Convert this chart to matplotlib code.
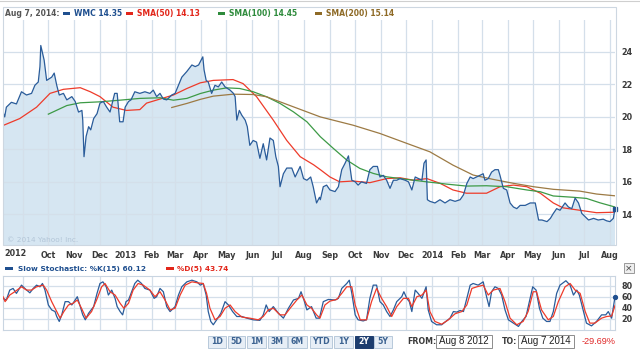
import matplotlib
matplotlib.use('Agg')
import matplotlib.pyplot as plt
import matplotlib.transforms as mtransforms
from matplotlib.patches import Rectangle
import pandas as pd

# ---- data (x values are days since Aug 8 2012) ----
start = pd.Timestamp('2012-08-08')
end = pd.Timestamp('2014-08-07')

price_days = [0, 2, 4, 10, 16, 22, 28, 34, 38, 42,
              44, 45, 49, 52, 58, 61, 64, 67, 72, 76,
              82, 86, 90, 94, 95, 96.5, 99, 102, 104.5, 108,
              112, 115.5, 119.5, 123.5, 127.5, 133, 136, 139, 143, 145.5,
              149.5, 152.5, 157, 163, 169, 175, 179, 183, 187, 191,
              195, 201, 205, 209, 213, 219, 225, 229, 233, 238,
              239.5, 242, 244.5, 248.5, 252.5, 256.5, 260.5, 264.5, 270.5, 274.5,
              276.5, 278.5, 281.5, 284.5, 288.5, 291, 294, 298, 302, 306,
              310, 314, 318, 322, 325, 328, 330, 334, 338, 344,
              348, 354, 358, 362, 366.5, 369.5, 373.5, 377, 378, 381.5,
              385.5, 389.5, 395.5, 399.5, 403.5, 407.5, 411.5, 415.5, 419.5, 423,
              427, 433, 437, 441, 446, 449, 453, 457, 461, 465,
              469, 473, 479, 483, 487, 491, 495, 499, 501.5, 504,
              505.5, 508.5, 514.5, 520.5, 526.5, 532.5, 538.5, 544.5, 548.5, 552.5,
              556.5, 560, 564, 568, 572, 574, 578, 582, 586, 590,
              592, 594, 596, 600, 604, 608, 612, 616, 622, 628,
              634, 638, 642, 648, 652, 655.5, 659.5, 663.5, 669.5, 673.5,
              677.5, 681.5, 685.5, 689.5, 693.5, 697.5, 703.5, 709, 715, 719,
              723, 727, 729]
price = [20.3, 20.0, 20.6, 20.9, 20.8, 21.55, 21.35, 21.45, 21.95, 22.15,
         23.1, 24.4, 23.5, 22.25, 22.45, 22.7, 21.95, 21.35, 21.45, 21.05,
         21.25, 20.95, 20.3, 20.4, 19.8, 17.55, 18.8, 19.4, 19.2, 19.9,
         20.2, 20.85, 20.95, 20.6, 20.3, 21.45, 21.45, 19.7, 19.7, 20.6,
         20.95, 21.05, 21.55, 21.45, 21.55, 21.45, 21.65, 21.25, 21.45, 21.1,
         21.05, 21.35, 21.45, 21.95, 22.45, 22.8, 23.2, 23.1, 23.2, 23.7,
         22.9, 22.25, 22.15, 21.45, 21.95, 21.85, 22.15, 21.85, 21.65, 21.45,
         21.25, 19.8, 20.4, 20.1, 19.8, 19.4, 18.25, 18.55, 18.45, 17.45,
         18.35, 17.35, 18.7, 18.55, 17.55, 16.95, 15.7, 16.5, 16.85, 16.85,
         16.3, 16.95, 16.2, 16.1, 16.3, 15.7, 14.7, 15.05, 14.9, 15.7,
         15.8, 15.5, 15.4, 15.7, 16.75, 17.15, 17.6, 16.1, 16.0, 15.8,
         16.0, 15.9, 16.75, 16.95, 16.95, 16.3, 16.4, 16.1, 15.6, 16.1,
         16.1, 16.2, 16.1, 16.0, 15.5, 16.3, 16.2, 16.1, 17.15, 17.35,
         14.9, 14.8, 14.7, 14.9, 14.7, 14.9, 14.8, 14.9, 15.2, 15.9,
         16.3, 16.2, 16.3, 16.4, 16.5, 16.1, 16.2, 16.6, 16.75, 16.75,
         16.4, 16.0, 15.6, 15.5, 14.7, 14.45, 14.35, 14.55, 14.55, 14.7,
         14.7, 13.65, 13.65, 13.55, 13.75, 14.05, 14.35, 14.25, 14.7, 14.45,
         14.35, 15.0, 14.7, 14.05, 13.85, 13.65, 13.75, 13.65, 13.7, 13.6,
         13.55, 13.75, 14.35]

sma50_days = [0, 20, 40, 56, 72, 92, 104, 115.5, 131, 147, 163, 171, 187, 203,
              219, 235, 250.5, 274, 286, 302, 322, 338, 354, 370, 378, 389.5,
              401, 417, 437, 457, 473, 489, 505, 521, 536, 552, 576, 592, 608,
              624, 640, 655.5, 667, 687, 707, 729]
sma50 = [19.47, 19.9, 20.6, 21.45, 21.7, 21.8, 21.55, 21.25, 20.6, 20.4, 20.45,
         20.85, 21.1, 21.35, 21.75, 22.1, 22.25, 22.3, 22.05, 21.25, 19.8, 18.55,
         17.55, 17.05, 16.75, 16.3, 16.0, 16.05, 15.95, 16.2, 16.25, 16.1, 16.2,
         15.9, 15.5, 15.3, 15.3, 15.7, 15.8, 15.7, 15.3, 14.7, 14.4, 14.25, 14.1,
         14.13]

sma100_days = [54, 76, 92, 115.5, 139, 163, 187, 203, 219, 235, 250.5, 266.5,
               282, 298, 314, 330, 346, 362, 378, 393.5, 409.5, 425, 441, 457,
               481, 505, 528.5, 552, 576, 600, 624, 640, 655.5, 679, 695, 711, 729]
sma100 = [20.17, 20.7, 20.87, 20.93, 21.03, 21.14, 21.18, 21.03, 21.14, 21.44,
          21.65, 21.79, 21.75, 21.55, 21.24, 20.83, 20.31, 19.7, 18.78, 18.06,
          17.34, 16.83, 16.52, 16.31, 16.15, 16.0, 15.86, 15.74, 15.76, 15.7,
          15.5, 15.39, 15.13, 15.05, 14.98, 14.71, 14.45]

sma200_days = [201, 219, 235, 250.5, 274, 298, 314, 330, 346, 362, 378, 417,
               449, 481, 508.5, 536, 560, 584, 608, 632, 655.5, 687, 707, 729]
sma200 = [20.58, 20.83, 21.08, 21.28, 21.4, 21.38, 21.24, 20.93, 20.62, 20.31,
          20.0, 19.49, 18.98, 18.37, 17.85, 17.03, 16.42, 16.15, 15.91, 15.7,
          15.54, 15.43, 15.25, 15.14]

k_days = [0, 4, 8, 12, 16, 22, 26, 32, 36, 40, 44, 47, 50, 54, 58, 62, 64, 67,
          70, 74, 78, 82, 86, 88.5, 92, 95, 98, 102, 108, 112, 115.5, 119, 123,
          125.5, 129.5, 133.5, 136, 139.5, 142.5, 146.5, 149.5, 152.5, 157, 160.5,
          165, 169, 175, 180, 183, 187, 191, 195, 199, 205, 209, 213, 219, 225,
          231, 235, 238.5, 242, 244.5, 247.5, 250.5, 254.5, 259.5, 264.5, 268.5,
          273.5, 278.5, 284.5, 290.5, 298, 306, 310, 313.5, 317, 322, 328, 334,
          340, 346, 352, 355, 358.5, 362, 367.5, 373, 377, 381.5, 387.5, 395.5,
          399.5, 403.5, 409.5, 412.5, 415.5, 419.5, 423, 429, 433, 437, 441, 445,
          449, 453, 457, 461, 465, 469, 475, 477.5, 481, 484, 487, 491, 494.5,
          499, 504, 506.5, 510.5, 516.5, 522.5, 527.5, 532.5, 536.5, 540.5, 544.5,
          548.5, 552.5, 556.5, 560, 566, 572, 576, 579, 582, 586, 590, 594, 598,
          602, 608, 614, 618, 623, 627, 631, 635, 639, 643, 647.5, 651.5, 655.5,
          659.5, 663.5, 670.5, 675.5, 679.5, 683.5, 686.5, 691, 695, 701, 707,
          713, 718, 721, 725, 729]
k_vals = [57, 54, 72, 75, 66, 81, 75, 67, 75, 81, 78, 84, 72, 45, 36, 33, 24, 15,
          27, 51, 51, 45, 54, 60, 42, 27, 18, 30, 42, 66, 84, 87, 78,
          63, 72, 57, 42, 33, 27, 51, 54, 66, 84, 90,
          84, 75, 72, 57, 60, 75, 69, 42, 33, 42, 63, 78, 87, 90,
          87, 81, 84, 63, 33, 15, 9, 18, 30, 51, 45,
          33, 24, 24, 21, 18, 17, 27, 45, 33, 42, 30, 21,
          39, 54, 57, 69, 54, 36, 42, 21, 21, 51, 55, 54,
          57, 75, 84, 90, 66, 27, 18, 16, 18, 57, 81, 81,
          51, 45, 33, 24, 36, 51, 60, 69, 57, 51, 33, 72, 66,
          57, 78, 36, 15, 9, 9, 15, 21, 33, 32, 35,
          33, 57, 81, 84, 81, 87, 60, 42, 69, 78, 75, 63, 36,
          18, 12, 6, 15, 24, 51, 78, 72, 39, 21, 15, 15, 33,
          66, 81, 89, 81, 63, 72, 63, 36, 12, 7, 15,
          27, 27, 33, 21, 60]

d_days = [0, 2.5, 8, 14, 22, 28, 34, 40, 48, 52, 58, 64, 68, 72.5, 78, 83.5,
          88.5, 93.5, 99, 105.5, 111.5, 117.5, 121.5, 127.5, 133.5, 139.5, 144,
          149.5, 155, 161, 167, 175, 181, 187, 193, 199, 205, 211, 217, 225, 232.5,
          238.5, 242.5, 246.5, 252.5, 258.5, 264.5, 270.5, 276.5, 284.5, 294, 304,
          310, 316, 322, 330, 336, 342, 350, 356, 362, 367.5, 373.5, 377.5, 383.5,
          389.5, 397.5, 403.5, 409.5, 415.5, 419.5, 425.5, 433, 439, 445, 451, 457,
          463, 469, 477, 483, 487, 493, 499, 504, 508.5, 514.5, 522.5, 530.5, 538.5,
          546.5, 552.5, 558.5, 564.5, 572, 578, 584, 592, 598, 604, 612, 619.5,
          625.5, 631.5, 635.5, 641.5, 649.5, 655.5, 661.5, 669.5, 675.5, 681.5,
          687.5, 693.5, 699, 705, 713, 719, 725, 729]
d_vals = [60, 51, 63, 69, 78, 72, 72, 78, 81, 72, 51, 33, 21, 33, 45, 48,
          54, 39, 21, 33, 54, 78, 84, 69, 63, 48, 39,
          48, 72, 84, 81, 72, 60, 69, 54, 36, 39, 63, 81, 87, 85,
          84, 66, 39, 18, 24, 39, 45, 33, 23, 21, 18,
          24, 36, 39, 27, 27, 39, 54, 63, 45, 39, 27, 21, 45,
          52, 55, 66, 78, 78, 45, 18, 18, 51, 75, 57, 42,
          24, 42, 57, 57, 42, 60, 63, 72, 33, 15, 10, 18, 29,
          33, 45, 75, 78, 81, 63, 72, 75, 51, 21, 9, 15,
          33, 69, 69, 36, 18, 24, 51, 78, 84, 72,
          66, 33, 12, 12, 21, 24, 25, 44]

month_ticks = pd.date_range('2012-09-01', '2014-08-01', freq='MS')
ranges = ['1D', '5D', '1M', '3M', '6M', 'YTD', '1Y', '2Y', '5Y']


def to_dates(days):
    return start + pd.to_timedelta(days, unit='D')


C_PRICE = '#2a5c9a'
C_FILL = '#d6e6f2'
C_S50 = '#ee3b2a'
C_S100 = '#3d9a46'
C_S200 = '#9c7a44'
C_GRID = '#d4dfea'
C_TXT = '#3a3a3a'
TICK_FS = 5.8

W, H = 640, 352
fig = plt.figure(figsize=(6.4, 3.52), dpi=100)


def box(x0, y0, x1, y1):
    return [x0 / W, 1 - y1 / H, (x1 - x0) / W, (y1 - y0) / H]


# ---- main price panel ----
ax = fig.add_axes(box(3, 20, 615, 245))
pd_x = to_dates(price_days)
ax.fill_between(pd_x, price, 0, color=C_FILL, lw=0, zorder=1)
ax.plot(pd_x, price, color=C_PRICE, lw=0.9, zorder=4)
ax.plot(pd_x[-1:], price[-1:], 's', color='#1f4f8f', ms=3, clip_on=False, zorder=5)
ax.plot(to_dates(sma50_days), sma50, color=C_S50, lw=0.9, zorder=3)
ax.plot(to_dates(sma100_days), sma100, color=C_S100, lw=0.9, zorder=3)
ax.plot(to_dates(sma200_days), sma200, color=C_S200, lw=0.9, zorder=3)

ax.set_xlim(start, end)
ax.set_ylim(12.11, 25.97)
ax.set_yticks([14, 16, 18, 20, 22, 24])
ax.yaxis.tick_right()
ax.set_xticks(month_ticks)
labels = []
for i, m in enumerate(month_ticks):
    if i == 0:
        labels.append('')
    elif m.month == 1:
        labels.append(str(m.year))
    else:
        labels.append(m.strftime('%b'))
ax.set_xticklabels(labels)
ax.tick_params(axis='x', length=0, pad=4, labelsize=TICK_FS, labelcolor=C_TXT)
ax.tick_params(axis='y', length=0, pad=4.5, labelsize=TICK_FS, labelcolor=C_TXT)
for t in ax.get_xticklabels() + ax.get_yticklabels():
    t.set_fontweight('bold')
trans = mtransforms.blended_transform_factory(ax.transData, ax.transAxes)
ax.text(start + pd.Timedelta(days=2), -0.02, '2012', transform=trans, ha='left', va='top',
        fontsize=TICK_FS, fontweight='bold', color=C_TXT)
ax.grid(True, color=C_GRID, lw=0.9, zorder=2)
ax.set_axisbelow(False)
for s in ax.spines.values():
    s.set_visible(False)
ax.text(0.007, 0.012, '\u00a9 2014 Yahoo! Inc.', transform=ax.transAxes,
        fontsize=5.3, color='#b3c6d8', zorder=6)

# ---- stochastic panel ----
axs = fig.add_axes(box(3, 276, 615, 330))
axs.plot(to_dates(k_days), k_vals, color=C_PRICE, lw=0.9, zorder=3)
axs.plot(to_dates(d_days), d_vals, color=C_S50, lw=0.9, zorder=3)
axs.plot(to_dates(k_days[-1:]), k_vals[-1:], 'o', color='#1f4f8f', ms=2.8,
         clip_on=False, zorder=5)
axs.set_xlim(start, end)
axs.set_ylim(-0.5, 97.6)
axs.set_yticks([20, 40, 60, 80])
axs.yaxis.tick_right()
axs.set_xticks(month_ticks)
axs.set_xticklabels([])
axs.tick_params(axis='x', length=0)
axs.tick_params(axis='y', length=0, pad=4.5, labelsize=TICK_FS, labelcolor=C_TXT)
for t in axs.get_yticklabels():
    t.set_fontweight('bold')
axs.grid(True, color=C_GRID, lw=0.9, zorder=1)
for s in axs.spines.values():
    s.set_color('#c9d5e1')
    s.set_linewidth(0.8)

# ---- overlay: frames, legends, controls (pixel coords) ----
ov = fig.add_axes([0, 0, 1, 1], zorder=10)
ov.set_xlim(0, W)
ov.set_ylim(H, 0)
ov.axis('off')
ov.patch.set_alpha(0)

ov.plot([0, W], [1, 1], color='#cfcfcf', lw=0.8)
ov.add_patch(Rectangle((2.5, 6.5), 613, 238.5, fill=False, ec='#cdd7e1', lw=0.8))

fs = 5.5
ov.text(5, 13.5, 'Aug 7, 2014:', fontsize=fs, fontweight='bold', color='#555555', va='center')
legend_items = [(63, 'WMC 14.35', '#1f4f8f'), (126, 'SMA(50) 14.13', '#e2261a'),
                (218, 'SMA(100) 14.45', '#2e8b3c'), (315, 'SMA(200) 15.14', '#8e6a26')]
for x0, lab, col in legend_items:
    ov.add_patch(Rectangle((x0, 11.5), 7, 3.5, color=col, lw=0))
    ov.text(x0 + 11, 13.5, lab, fontsize=fs, fontweight='bold', color=col, va='center')

ov.add_patch(Rectangle((5, 266.5), 8, 3.5, color='#1f4f8f', lw=0))
ov.text(18, 268.5, 'Slow Stochastic: %K(15) 60.12', fontsize=5.3, fontweight='bold',
        color='#1f4f8f', va='center')
ov.add_patch(Rectangle((166, 266.5), 8, 3.5, color='#e2261a', lw=0))
ov.text(177, 268.5, '%D(5) 43.74', fontsize=5.3, fontweight='bold', color='#e2261a', va='center')

ov.add_patch(Rectangle((624, 263), 10, 10, fc='#eeeeee', ec='#9a9a9a', lw=0.7))
ov.text(629, 268.3, '\u00d7', fontsize=6.5, color='#444444', ha='center', va='center')

edges = [(208, 226), (228, 245), (247, 266), (268, 287), (288, 307),
         (310, 332), (334, 353), (355, 373), (374, 392)]
for (x0, x1), lab in zip(edges, ranges):
    sel = lab == '2Y'
    ov.add_patch(Rectangle((x0, 336), x1 - x0, 11.5,
                           fc='#1d3d6e' if sel else '#e7eef6',
                           ec='#1d3d6e' if sel else '#b8c9db', lw=0.7))
    ov.text((x0 + x1) / 2, 342, lab, fontsize=5.6, fontweight='bold',
            color='white' if sel else '#3d6391', ha='center', va='center')

ov.text(407, 341.5, 'FROM:', fontsize=5.7, fontweight='bold', color=C_TXT, va='center')
ov.add_patch(Rectangle((436, 335), 56, 13, fc='white', ec='#8c8c8c', lw=0.7))
ov.text(439, 341.5, 'Aug 8 2012', fontsize=7, family='Liberation Sans', color='#222222', va='center')
ov.text(502, 341.5, 'TO:', fontsize=5.7, fontweight='bold', color=C_TXT, va='center')
ov.add_patch(Rectangle((518, 335), 56, 13, fc='white', ec='#8c8c8c', lw=0.7))
ov.text(521, 341.5, 'Aug 7 2014', fontsize=7, family='Liberation Sans', color='#222222', va='center')
ov.text(582, 341.5, '-29.69%', fontsize=6.6, family='Liberation Sans', color='#e02828', va='center')

fig.savefig('out.png', dpi=100)
